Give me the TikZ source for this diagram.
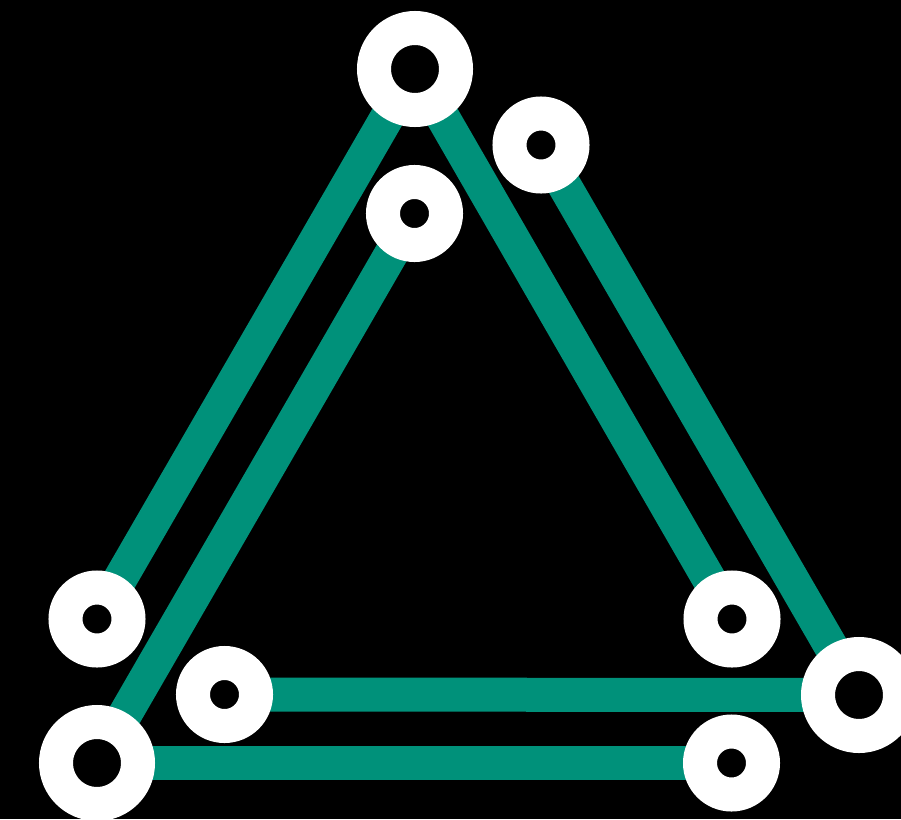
\documentclass[tikz,border=0pt]{standalone}
\usetikzlibrary{backgrounds}
\definecolor{bargreen}{RGB}{0,145,122}
\tikzset{
  ring/.style={circle, draw=white, fill=black, line width=34pt, inner sep=0pt},
  bigring/.style={ring, minimum size=82pt},
  smallring/.style={ring, minimum size=63pt},
  bar/.style={draw=bargreen, line width=34pt}
}
\begin{document}
\begin{tikzpicture}[x=1pt,y=-1pt]
\useasboundingbox (0,0) rectangle (901,819);
\node[bigring] (top) at (415,69) {};
\node[smallring] (tr) at (541,145) {};
\node[smallring] (tm) at (414.5,213.5) {};
\node[smallring] (ml) at (97,619) {};
\node[smallring] (mr) at (732,619) {};
\node[smallring] (bm) at (224.5,694.5) {};
\node[bigring] (br) at (859,695) {};
\node[bigring] (bl) at (97,763) {};
\node[smallring] (bb) at (731.5,763) {};
\begin{scope}[on background layer]
\fill[black] (0,0) rectangle (901,819);
\draw[bar] (top.center) -- (ml.center);
\draw[bar] (top.center) -- (mr.center);
\draw[bar] (tr.center) -- (br.center);
\draw[bar] (bm.center) -- (br.center);
\draw[bar] (tm.center) -- (bl.center);
\draw[bar] (bl.center) -- (bb.center);
\end{scope}
\end{tikzpicture}
\end{document}
